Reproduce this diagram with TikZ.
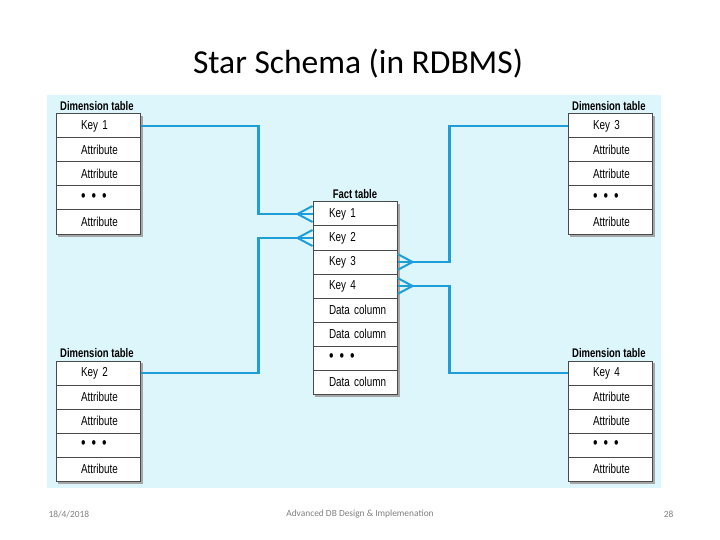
\documentclass[tikz,border=0pt]{standalone}
\usepackage{fontspec}
\setmainfont{Carlito}
\newfontfamily\tabfont[FakeStretch=0.76]{Liberation Sans}
\definecolor{bgblue}{HTML}{DDF6FC}
\definecolor{connblue}{HTML}{1E9DD8}
\definecolor{cellline}{HTML}{4A4A4A}
\newcommand{\tdots}{{\fontsize{17}{13}\selectfont\raisebox{-1pt}{\textbullet\kern6pt\textbullet\kern6pt\textbullet}}}
\tikzset{
  cell/.style={draw=cellline, line width=1pt, fill=white, minimum width=84pt, minimum height=24pt,
    text width=80pt, inner xsep=2pt, inner ysep=0pt, align=left,
    font=\tabfont\fontsize{13}{14}\selectfont},
  hdr/.style={font=\tabfont\bfseries\fontsize{12.5}{13}\selectfont, inner sep=0pt},
  conn/.style={draw=connblue, line width=2.4pt},
  crow/.style={draw=connblue, line width=2pt},
  shadow/.style={fill=gray!70},
  foot/.style={font=\fontsize{9.4}{10}\selectfont, text=gray}
}
\begin{document}
\begin{tikzpicture}[x=1pt,y=-1pt]
\useasboundingbox (0,0) rectangle (720,540);
\fill[white] (0,0) rectangle (720,540);
\fill[bgblue] (47,95) rectangle (661,488);
\node[font=\fontsize{33.5}{38}\selectfont, inner sep=0pt] (title) at (358,64) {Star Schema (in RDBMS)};

% shadows
\fill[shadow] (58,116) rectangle (142.5,236.5);
\fill[shadow] (570,116) rectangle (654.5,236.5);
\fill[shadow] (58,363) rectangle (142.5,483.5);
\fill[shadow] (570,363) rectangle (654.5,483.5);
\fill[shadow] (315,204) rectangle (399.5,396.5);

% Dimension table top-left
\node[hdr, anchor=west] (h1) at (60,106) {Dimension table};
\node[cell] (a1) at (98,126) {\hspace*{23pt}Key 1};
\node[cell] (a2) at (98,150) {\hspace*{23pt}Attribute};
\node[cell] (a3) at (98,174) {\hspace*{23pt}Attribute};
\node[cell] (a4) at (98,198) {\hspace*{23pt}\tdots};
\node[cell] (a5) at (98,222) {\hspace*{23pt}Attribute};

% Dimension table top-right
\node[hdr, anchor=west] (h3) at (572,106) {Dimension table};
\node[cell] (c1) at (610,126) {\hspace*{23pt}Key 3};
\node[cell] (c2) at (610,150) {\hspace*{23pt}Attribute};
\node[cell] (c3) at (610,174) {\hspace*{23pt}Attribute};
\node[cell] (c4) at (610,198) {\hspace*{23pt}\tdots};
\node[cell] (c5) at (610,222) {\hspace*{23pt}Attribute};

% Dimension table bottom-left
\node[hdr, anchor=west] (h2) at (60,353) {Dimension table};
\node[cell] (b1) at (98,373) {\hspace*{23pt}Key 2};
\node[cell] (b2) at (98,397) {\hspace*{23pt}Attribute};
\node[cell] (b3) at (98,421) {\hspace*{23pt}Attribute};
\node[cell] (b4) at (98,445) {\hspace*{23pt}\tdots};
\node[cell] (b5) at (98,469) {\hspace*{23pt}Attribute};

% Dimension table bottom-right
\node[hdr, anchor=west] (h4) at (572,353) {Dimension table};
\node[cell] (d1) at (610,373) {\hspace*{23pt}Key 4};
\node[cell] (d2) at (610,397) {\hspace*{23pt}Attribute};
\node[cell] (d3) at (610,421) {\hspace*{23pt}Attribute};
\node[cell] (d4) at (610,445) {\hspace*{23pt}\tdots};
\node[cell] (d5) at (610,469) {\hspace*{23pt}Attribute};

% Fact table
\node[hdr] (hf) at (355,194) {Fact table};
\node[cell] (f1) at (355,214) {\hspace*{14pt}Key 1};
\node[cell] (f2) at (355,238) {\hspace*{14pt}Key 2};
\node[cell] (f3) at (355,262) {\hspace*{14pt}Key 3};
\node[cell] (f4) at (355,286) {\hspace*{14pt}Key 4};
\node[cell] (f5) at (355,310) {\hspace*{14pt}Data column};
\node[cell] (f6) at (355,334) {\hspace*{14pt}Data column};
\node[cell] (f7) at (355,358) {\hspace*{14pt}\tdots};
\node[cell] (f8) at (355,382) {\hspace*{14pt}Data column};

% connectors
\draw[conn] (a1.east) -- ++(118,0) |- (f1.west);
\draw[conn] (b1.east) -- ++(118,0) |- (f2.west);
\draw[conn] (c1.west) -- ++(-118,0) |- (f3.east);
\draw[conn] (d1.west) -- ++(-118,0) |- (f4.east);

% crow's feet
\draw[crow] ([yshift=8pt]f1.west) -- ([xshift=-15pt]f1.west) -- ([yshift=-8pt]f1.west);
\draw[crow] ([yshift=8pt]f2.west) -- ([xshift=-15pt]f2.west) -- ([yshift=-8pt]f2.west);
\draw[crow] ([yshift=8pt]f3.east) -- ([xshift=15pt]f3.east) -- ([yshift=-8pt]f3.east);
\draw[crow] ([yshift=8pt]f4.east) -- ([xshift=15pt]f4.east) -- ([yshift=-8pt]f4.east);

% footer
\node[foot, anchor=west] (date) at (45,514) {18/4/2018};
\node[foot] (course) at (360,514) {Advanced DB Design \& Implemenation};
\node[foot, anchor=east] (page) at (677,514) {28};
\end{tikzpicture}
\end{document}
